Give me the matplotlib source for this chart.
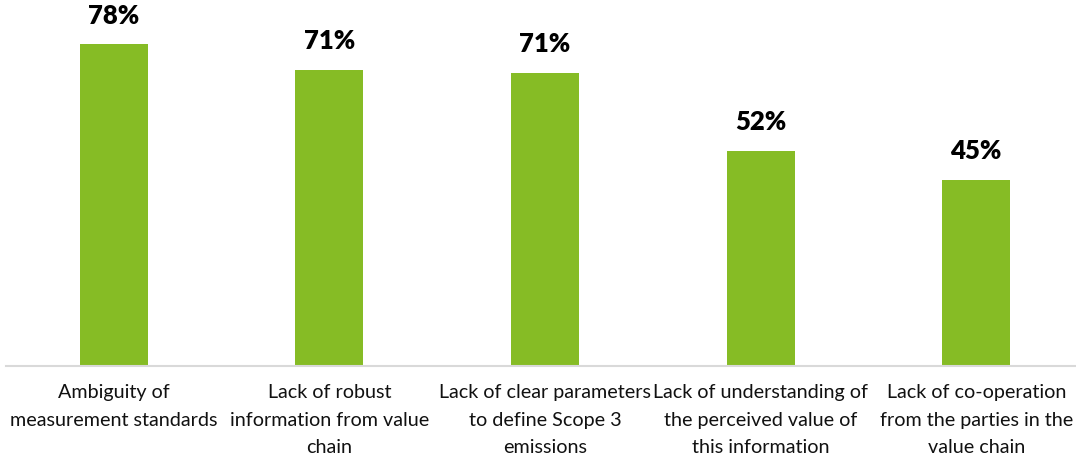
import matplotlib.pyplot as plt

# data
categories = [
    "Ambiguity of\nmeasurement standards",
    "Lack of robust\ninformation from value\nchain",
    "Lack of clear parameters\nto define Scope 3\nemissions",
    "Lack of understanding of\nthe perceived value of\nthis information",
    "Lack of co-operation\nfrom the parties in the\nvalue chain",
]
values = [78, 71.8, 71.0, 52.2, 45.2]
labels = ["78%", "71%", "71%", "52%", "45%"]

plt.rcParams['font.family'] = ['Lato', 'DejaVu Sans']

fig = plt.figure(figsize=(10.76, 4.54), dpi=100)
# axes runs past the right edge like the original
ax = fig.add_axes([6 / 1076, 88 / 454, 1078 / 1076, 363 / 454])

x = range(len(categories))
ax.bar(x, values, width=0.315, color='#86BC25')

for i, v in enumerate(values):
    ax.annotate(labels[i], (i, v), xytext=(0, 12), textcoords='offset points',
                ha='center', va='bottom', fontsize=18.5, fontweight='heavy', color='black')

ax.set_xlim(-0.5, 4.5)
ax.set_ylim(0, 88)
ax.set_xticks(list(x))
ax.set_xticklabels(categories, fontsize=14.2, linespacing=1.75, color='#111111')
ax.tick_params(axis='x', length=0, pad=13)
ax.set_yticks([])

for s in ['top', 'right', 'left']:
    ax.spines[s].set_visible(False)
ax.spines['bottom'].set_color('#D9D9D9')
ax.spines['bottom'].set_linewidth(1.5)

fig.savefig('out.png', dpi=100)
